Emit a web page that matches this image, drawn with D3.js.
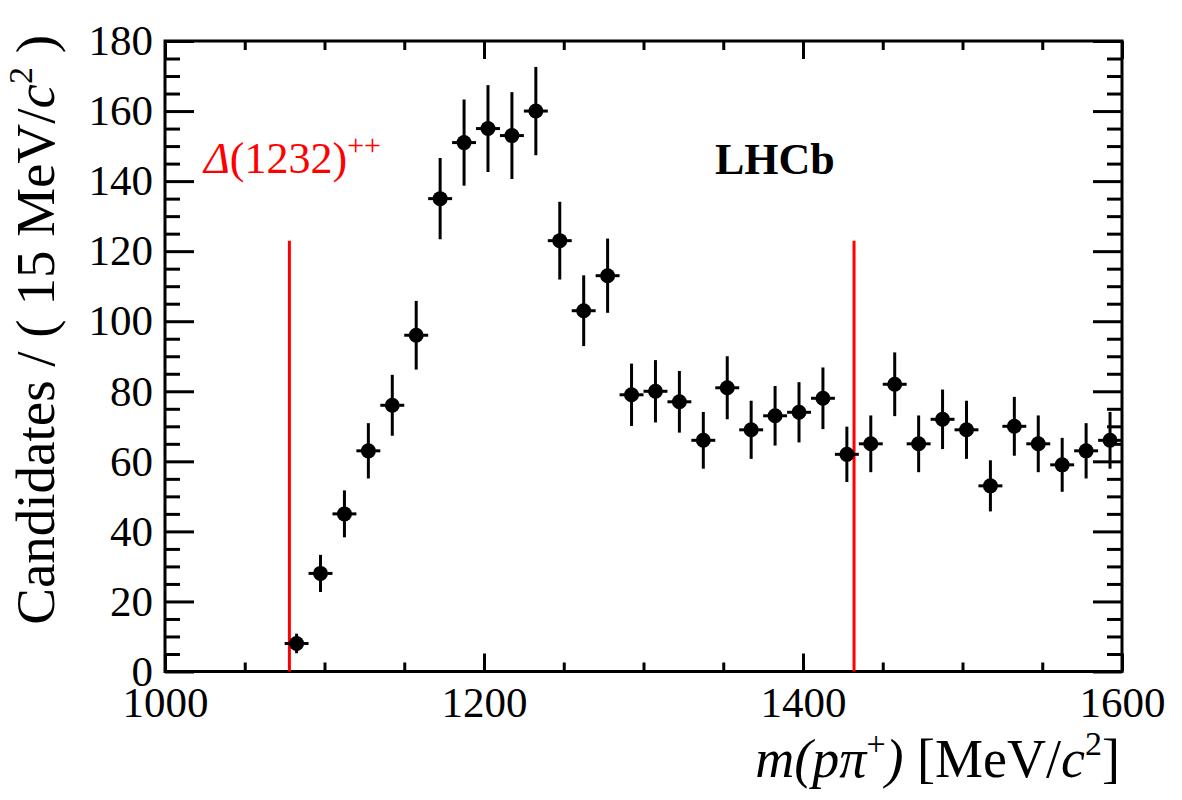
<!DOCTYPE html>
<html>
<head>
<meta charset="utf-8">
<script src="https://cdn.jsdelivr.net/npm/d3@7"></script>
<style>
	body { margin: 0; background: #fff; }
	svg, svg text { font-family: "Liberation Serif", "Times New Roman", serif; }
	svg { display: block; }
</style>
</head>
<body>
<svg width="1182" height="800"></svg>
<script>

const MARGIN = { top: 41, right: 60, bottom: 128.5, left: 165 };
const FONT = '"Liberation Serif", "Times New Roman", serif';

// bin centres of m(p pi+) [MeV/c^2], 15 MeV bins
const binCenters = [1082.5, 1097.5, 1112.5, 1127.5, 1142.5, 1157.5, 1172.5, 1187.5, 1202.5,
	1217.5, 1232.5, 1247.5, 1262.5, 1277.5, 1292.5, 1307.5, 1322.5, 1337.5, 1352.5, 1367.5,
	1382.5, 1397.5, 1412.5, 1427.5, 1442.5, 1457.5, 1472.5, 1487.5, 1502.5, 1517.5, 1532.5,
	1547.5, 1562.5, 1577.5, 1592.5];
const binHalfWidth = 7.5;

const counts = [8, 28, 45, 63, 76, 96, 135, 151, 155, 153, 160, 123, 103, 113, 79, 80, 77, 66,
	81, 69, 73, 74, 78, 62, 65, 82, 65, 72, 69, 53, 70, 65, 59, 63, 66];

const errors = [2.8, 5.3, 6.7, 7.9, 8.7, 9.8, 11.6, 12.3, 12.4, 12.4, 12.6, 11.1, 10.1, 10.6,
	8.9, 8.9, 8.8, 8.1, 9.0, 8.3, 8.5, 8.6, 8.8, 7.9, 8.1, 9.1, 8.1, 8.5, 8.3, 7.3, 8.4, 8.1,
	7.7, 7.9, 8.1];

// kinematic limits drawn in red
const limitLines = [1078, 1432];
const limitHeight = 123;

const xMajorTicks = [1000, 1200, 1400, 1600];
const xMinorTicks = [1050, 1100, 1150, 1250, 1300, 1350, 1450, 1500, 1550];
const yMajorTicks = [0, 20, 40, 60, 80, 100, 120, 140, 160, 180];
const yMinorTicks = [5, 10, 15, 25, 30, 35, 45, 50, 55, 65, 70, 75, 85, 90, 95, 105, 110, 115,
	125, 130, 135, 145, 150, 155, 165, 170, 175];

let svg = d3.select('svg');
let width = svg.attr('width') - MARGIN.left - MARGIN.right;
let height = svg.attr('height') - MARGIN.top - MARGIN.bottom;

let x = d3.scaleLinear().domain([1000, 1600]).range([0, width]);
let y = d3.scaleLinear().domain([0, 180]).range([height, 0]);

let g = svg.append('g')
	.attr('transform', 'translate(' + MARGIN.left + ' ' + MARGIN.top + ')');

// ticks on all four sides, pointing inward
function tickAxis(axis, values, size, labels) {
	return axis.tickValues(values).tickSizeInner(-size).tickSizeOuter(0)
		.tickFormat(labels ? d3.format('d') : '');
}

function styleAxis(sel) {
	sel.attr('font-family', FONT).attr('font-size', 43);
	sel.select('.domain').remove();
	sel.selectAll('line').attr('stroke', '#000').attr('stroke-width', 3);
	sel.selectAll('text').attr('fill', '#000');
}

g.append('g').attr('transform', 'translate(0,' + height + ')')
	.call(tickAxis(d3.axisBottom(x), xMajorTicks, 18, true).tickPadding(15))
	.call(styleAxis);
g.append('g').attr('transform', 'translate(0,' + height + ')')
	.call(tickAxis(d3.axisBottom(x), xMinorTicks, 9, false)).call(styleAxis);
g.append('g')
	.call(tickAxis(d3.axisTop(x), xMajorTicks, 18, false)).call(styleAxis);
g.append('g')
	.call(tickAxis(d3.axisTop(x), xMinorTicks, 9, false)).call(styleAxis);

g.append('g')
	.call(tickAxis(d3.axisLeft(y), yMajorTicks, 29, true).tickPadding(12))
	.call(styleAxis);
g.append('g')
	.call(tickAxis(d3.axisLeft(y), yMinorTicks, 15, false)).call(styleAxis);
g.append('g').attr('transform', 'translate(' + width + ',0)')
	.call(tickAxis(d3.axisRight(y), yMajorTicks, 29, false)).call(styleAxis);
g.append('g').attr('transform', 'translate(' + width + ',0)')
	.call(tickAxis(d3.axisRight(y), yMinorTicks, 15, false)).call(styleAxis);

g.append('rect')
	.attr('width', width).attr('height', height)
	.attr('fill', 'none').attr('stroke', '#000').attr('stroke-width', 3);

// red lines
g.selectAll('.limit')
	.data(limitLines)
	.enter()
	.append('line')
	.attr('class', 'limit')
	.attr('x1', d => x(d)).attr('x2', d => x(d))
	.attr('y1', y(0)).attr('y2', y(limitHeight))
	.attr('stroke', '#ff0000').attr('stroke-width', 3);

// data points with error bars
let points = binCenters.map((c, i) => ({ c: c, n: counts[i], e: errors[i] }));

let pt = g.selectAll('.pt')
	.data(points)
	.enter()
	.append('g')
	.attr('class', 'pt');

pt.append('line')
	.attr('x1', d => x(d.c)).attr('x2', d => x(d.c))
	.attr('y1', d => y(d.n - d.e)).attr('y2', d => y(d.n + d.e))
	.attr('stroke', '#000').attr('stroke-width', 3);

pt.append('line')
	.attr('x1', d => x(d.c - binHalfWidth)).attr('x2', d => Math.min(x(d.c + binHalfWidth), width))
	.attr('y1', d => y(d.n)).attr('y2', d => y(d.n))
	.attr('stroke', '#000').attr('stroke-width', 3);

pt.append('circle')
	.attr('cx', d => x(d.c)).attr('cy', d => y(d.n))
	.attr('r', 7.5)
	.attr('fill', '#000');

// labels
let delta = svg.append('text')
	.attr('x', 204).attr('y', 173)
	.attr('fill', '#ff0000')
	.attr('font-family', FONT)
	.style('font-size', '44px');
delta.append('tspan').style('font-style', 'italic').text('Δ');
delta.append('tspan').text('(1232)');
delta.append('tspan').attr('dy', -18).style('font-size', '30px').text('++');

svg.append('text')
	.attr('x', 715).attr('y', 174)
	.attr('font-family', FONT)
	.style('font-size', '44px').style('font-weight', 'bold')
	.text('LHCb');

let xTitle = svg.append('text')
	.attr('x', 1120).attr('y', 777)
	.attr('text-anchor', 'end')
	.attr('font-family', FONT)
	.style('font-size', '54px');
xTitle.append('tspan').style('font-style', 'italic').text('m(pπ');
xTitle.append('tspan').attr('dy', -22).style('font-size', '34px').text('+');
xTitle.append('tspan').attr('dy', 22).style('font-style', 'italic').text(')');
xTitle.append('tspan').text(' [MeV/');
xTitle.append('tspan').style('font-style', 'italic').text('c');
xTitle.append('tspan').attr('dy', -22).style('font-size', '34px').text('2');
xTitle.append('tspan').attr('dy', 22).text(']');

let yTitle = svg.append('text')
	.attr('transform', 'translate(54,35) rotate(-90)')
	.attr('text-anchor', 'end')
	.attr('font-family', FONT)
	.style('font-size', '55px');
yTitle.append('tspan').text('Candidates / ( 15 MeV/');
yTitle.append('tspan').style('font-style', 'italic').text('c');
yTitle.append('tspan').attr('dy', -22).style('font-size', '34px').text('2');
yTitle.append('tspan').attr('dy', 22).text(' )');

</script>
</body>
</html>
